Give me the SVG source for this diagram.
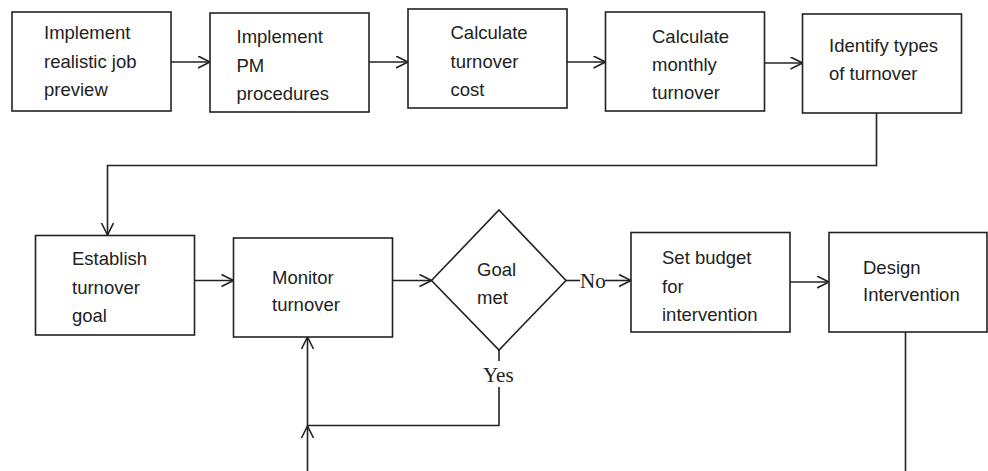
<svg xmlns="http://www.w3.org/2000/svg" width="988" height="471" viewBox="0 0 988 471">
<style>
.box{fill:#fff;stroke:#222;stroke-width:1.6}
.t{font-family:"Liberation Sans",Arial,sans-serif;font-size:18.5px;fill:#222}
.s{font-family:"Liberation Serif","Times New Roman",serif;font-size:21px;fill:#222}
.c{fill:none;stroke:#222;stroke-width:1.6}
.a{marker-end:url(#ah)}
</style>
<defs>
<marker id="ah" markerUnits="userSpaceOnUse" markerWidth="14" markerHeight="14" refX="12.5" refY="6.5" orient="auto">
<path d="M0.5,0.5 L12.5,6.5 L0.5,12.5" fill="none" stroke="#222" stroke-width="1.6"/>
</marker>
</defs>
<rect width="988" height="471" fill="#fff"/>
<g id="connectors">
<path class="c a" d="M171,62 H210"/>
<path class="c a" d="M369,62 H408"/>
<path class="c a" d="M567,62 H605.5"/>
<path class="c a" d="M764.5,63 H802.5"/>
<path class="c a" d="M876.5,113 V165.5 H107.5 V235"/>
<path class="c a" d="M195,280.5 H233.5"/>
<path class="c a" d="M393,280.5 H431.5"/>
<path class="c" d="M566,280.5 H580"/>
<path class="c a" d="M605,280.5 H631"/>
<path class="c a" d="M790,282 H829"/>
<path class="c" d="M905.5,332 V471"/>
<path class="c" d="M499,350 V361"/>
<path class="c a" d="M499,387 V425.5 H307.5 V337"/>
<path class="c a" d="M307.5,471 V426"/>
<text class="s" x="580" y="288">No</text>
<text class="s" x="483" y="381.5">Yes</text>
</g>
<g id="n1"><rect class="box" x="12" y="12" width="159" height="99"/>
<text class="t" x="44" y="39">Implement</text><text class="t" x="44" y="67.5">realistic job</text><text class="t" x="44" y="96">preview</text></g>
<g id="n2"><rect class="box" x="210" y="13" width="159" height="99"/>
<text class="t" x="236.5" y="43">Implement</text><text class="t" x="236.5" y="71.5">PM</text><text class="t" x="236.5" y="99.5">procedures</text></g>
<g id="n3"><rect class="box" x="408" y="9" width="159" height="99"/>
<text class="t" x="450.5" y="39">Calculate</text><text class="t" x="450.5" y="67.5">turnover</text><text class="t" x="450.5" y="96">cost</text></g>
<g id="n4"><rect class="box" x="605.5" y="12" width="159" height="99"/>
<text class="t" x="652" y="42.5">Calculate</text><text class="t" x="652" y="71">monthly</text><text class="t" x="652" y="99">turnover</text></g>
<g id="n5"><rect class="box" x="802.5" y="14" width="159" height="99"/>
<text class="t" x="829" y="51.5">Identify types</text><text class="t" x="829" y="79.5">of turnover</text></g>
<g id="n6"><rect class="box" x="35.5" y="235.5" width="159" height="99.5"/>
<text class="t" x="72" y="265">Establish</text><text class="t" x="72" y="293.5">turnover</text><text class="t" x="72" y="322">goal</text></g>
<g id="n7"><rect class="box" x="233.5" y="238" width="159" height="99"/>
<text class="t" x="272" y="283.5">Monitor</text><text class="t" x="272" y="311">turnover</text></g>
<g id="n8"><polygon class="box" points="499,210 566,280.5 499,350 431.5,280.5"/>
<text class="t" x="477" y="275.5">Goal</text><text class="t" x="477" y="303.5">met</text></g>
<g id="n9"><rect class="box" x="631" y="232.5" width="159" height="99.5"/>
<text class="t" x="662" y="264">Set budget</text><text class="t" x="662" y="292.5">for</text><text class="t" x="662" y="320.5">intervention</text></g>
<g id="n10"><rect class="box" x="829" y="232.5" width="158" height="99.5"/>
<text class="t" x="863" y="273.5">Design</text><text class="t" x="863" y="301">Intervention</text></g>
</svg>
